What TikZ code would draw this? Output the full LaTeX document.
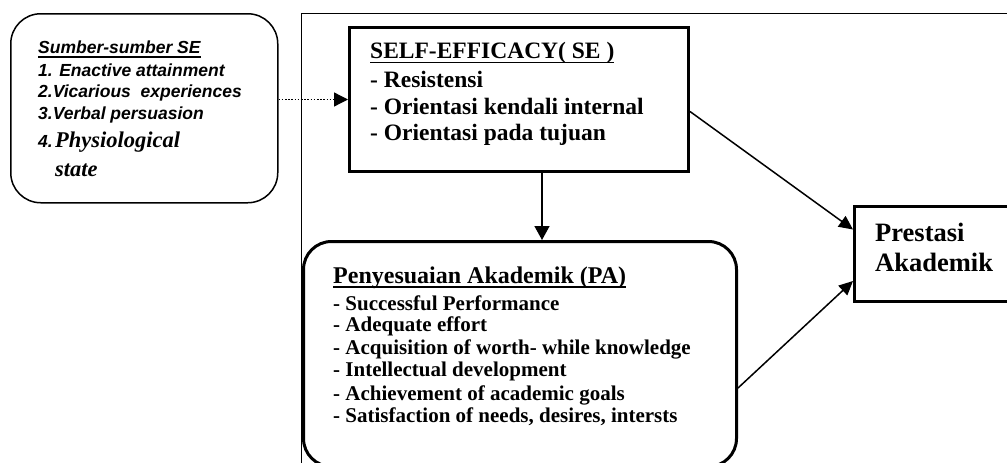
\documentclass[tikz,border=0pt]{standalone}
\usepackage{fontspec}
\setmainfont{Liberation Serif}
\newfontfamily\arialf{Liberation Sans}
\usetikzlibrary{arrows.meta}
\newcommand\myul[1]{\setbox0\hbox{#1}\rlap{\rule[-4.2pt]{\wd0}{1.4pt}}\box0}
\begin{document}
\begin{tikzpicture}[x=1pt,y=-1pt,
  box/.style={draw, anchor=north west, inner sep=0pt},
  txt/.style={anchor=base west, inner sep=0pt},
  arr/.style={line width=1.5pt, -{Triangle[length=14pt,width=13pt]}},
  sefont/.style={font=\fontsize{23.5}{26}\bfseries\selectfont},
  pafont/.style={font=\fontsize{21}{23}\bfseries\selectfont},
  sbfont/.style={font=\fontsize{17.5}{21}\arialf\bfseries\itshape\selectfont}]
\clip (0,0) rectangle (1007,463);
\fill[white] (0,0) rectangle (1007,463);
% frame
\node[box, line width=1.3pt, minimum width=800pt, minimum height=600pt] (frame) at (301,13) {};
% boxes
\node[box, line width=1.5pt, rounded corners=30pt, minimum width=267pt, minimum height=189pt] (sb) at (10,13) {};
\node[box, line width=3pt, minimum width=339pt, minimum height=144pt] (se) at (348,26) {};
\node[box, line width=3pt, rounded corners=28pt, minimum width=433pt, minimum height=225pt] (pa) at (302,240) {};
\node[box, line width=3pt, minimum width=190pt, minimum height=95pt] (pr) at (853,205) {};
% Sumber text
\node[txt, sbfont] (sb0) at (38,53.3) {\myul{Sumber-sumber SE}};
\node[txt, sbfont] (sb1) at (38,76) {1. Enactive attainment};
\node[txt, sbfont] (sb2) at (38,97) {2.Vicarious\ \ experiences};
\node[txt, sbfont] (sb3) at (38,119) {3.Verbal persuasion};
\node[txt, sbfont] (sb4) at (38,147) {4.};
\node[txt, font=\fontsize{22.5}{26}\bfseries\itshape\selectfont] (sb5) at (55,147) {Physiological};
\node[txt, font=\fontsize{22.5}{26}\bfseries\itshape\selectfont] (sb6) at (55,176) {state};
% SE text
\node[txt, sefont] (se0) at (370,58.7) {\myul{SELF-EFFICACY( SE )}};
\node[txt, sefont] (se1) at (370,87.3) {- Resistensi};
\node[txt, sefont] (se2) at (370,114) {- Orientasi kendali internal};
\node[txt, sefont] (se3) at (370,140) {- Orientasi pada tujuan};
% PA text
\node[txt, font=\fontsize{24}{27}\bfseries\selectfont] (pa0) at (333,283.3) {\myul{Penyesuaian Akademik (PA)}};
\node[txt, pafont] (pa1) at (333,310) {- Successful Performance};
\node[txt, pafont] (pa2) at (333,331.7) {- Adequate effort};
\node[txt, pafont] (pa3) at (333,354) {- Acquisition of worth- while knowledge};
\node[txt, pafont] (pa4) at (333,376.7) {- Intellectual development};
\node[txt, pafont] (pa5) at (333,400) {- Achievement of academic goals};
\node[txt, pafont] (pa6) at (333,422.7) {- Satisfaction of needs, desires, intersts};
% Prestasi text
\node[txt, font=\fontsize{26.5}{31}\bfseries\selectfont] (pr0) at (875,241.7) {Prestasi};
\node[txt, font=\fontsize{26.5}{31}\bfseries\selectfont] (pr1) at (875,271.7) {Akademik};
% connectors
\draw[line width=1.3pt, dash pattern=on 1.6pt off 1.6pt, -{Triangle[length=14pt,width=14pt]}] (sb.east |- se.west) -- (se.west);
\draw[line width=1.5pt, -{Triangle[length=14pt,width=15pt]}] ([xshift=23pt]se.south) -- ([xshift=23pt]se.south |- pa.north);
\draw[arr] ([yshift=-12pt]se.east) -- ([yshift=24.5pt]pr.west);
\draw[arr] ([yshift=-34pt]pa.east) -- ([yshift=-27pt]pr.west);
\end{tikzpicture}
\end{document}
